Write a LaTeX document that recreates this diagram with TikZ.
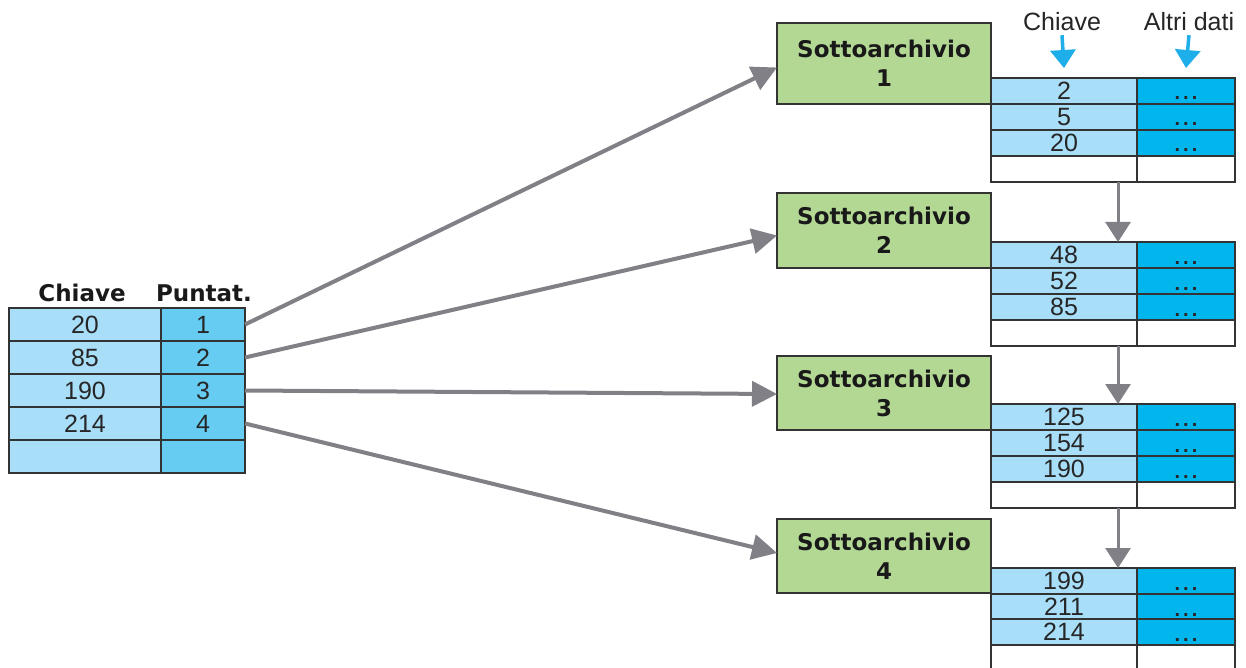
\documentclass[tikz,border=0pt]{standalone}
\usepackage{fontspec}
\setmainfont{Liberation Sans}
\newfontfamily\heavyfont{DejaVu Sans}
\usetikzlibrary{arrows.meta}
\definecolor{keyblue}{HTML}{A9DEF8}
\definecolor{ptrblue}{HTML}{66CCF2}
\definecolor{datablue}{HTML}{00B6EC}
\definecolor{boxgreen}{HTML}{B3D894}
\definecolor{arrgray}{HTML}{808086}
\definecolor{edgegray}{HTML}{333333}
\definecolor{topblue}{HTML}{1EAEEA}
\tikzset{
  cell/.style={draw=edgegray, line width=1.8pt, inner sep=0pt, outer sep=0pt, anchor=north west,
    font=\fontsize{25}{25}\selectfont, text=black!85},
  dots/.style={text height=18pt, text depth=0pt, font=\bfseries\fontsize{20}{20}\selectfont},
  sbox/.style={draw=edgegray, line width=1.8pt, fill=boxgreen, inner sep=0pt, outer sep=0pt,
    anchor=north west, minimum width=214pt, align=center,
    font=\heavyfont\bfseries\fontsize{23}{29}\selectfont, text=black!90},
  heavy/.style={font=\heavyfont\bfseries\fontsize{23}{23}\selectfont, text=black!90},
  plain/.style={font=\fontsize{25}{25}\selectfont, text=black!85},
  bigarrow/.style={draw=arrgray, line width=4pt, -{Triangle[length=25pt,width=25pt]}, fill=arrgray},
  downarrow/.style={draw=arrgray, line width=3pt, -{Triangle[length=20pt,width=25pt]}, fill=arrgray},
  bluearrow/.style={draw=topblue, line width=3.5pt, -{Triangle[length=18pt,width=25pt]}, fill=topblue}
}
\newcommand\dotrow{.\kern3pt.\kern3pt.}
\newcommand\leftrow[4]{%
  \node[cell, fill=keyblue, minimum width=152pt, minimum height=33pt] (lk#1) at (9,#2) {#3};
  \node[cell, fill=ptrblue, minimum width=84pt, minimum height=33pt] (lp#1) at (161,#2) {#4};}
\newcommand\rightrow[7]{% table, row, y, key, keyfill, datafill, data
  \node[cell, fill=#5, minimum width=146pt, minimum height=26pt] (k#1#2) at (991,#3) {#4};
  \node[cell, fill=#6, dots, minimum width=98pt, minimum height=26pt] (d#1#2) at (1137,#3) {#7};}
\begin{document}
\begin{tikzpicture}[x=1pt,y=-1pt]
\useasboundingbox[fill=white] (0,0) rectangle (1246,668);

% left index table
\node[heavy] (hk) at (82,293) {Chiave};
\node[heavy] (hp) at (204,293) {Puntat.};
\leftrow{0}{308}{20}{1}
\leftrow{1}{341}{85}{2}
\leftrow{2}{374}{190}{3}
\leftrow{3}{407}{214}{4}
\leftrow{4}{440}{}{}

% sub-archive boxes
\node[sbox, minimum height=81pt] (s1) at (777,23) {Sottoarchivio\\1};
\node[sbox, minimum height=75pt] (s2) at (777,193) {Sottoarchivio\\2};
\node[sbox, minimum height=74pt] (s3) at (777,356) {Sottoarchivio\\3};
\node[sbox, minimum height=74pt] (s4) at (777,519) {Sottoarchivio\\4};

% sub-archive tables
\rightrow{1}{1}{78}{2}{keyblue}{datablue}{\dotrow}
\rightrow{1}{2}{104}{5}{keyblue}{datablue}{\dotrow}
\rightrow{1}{3}{130}{20}{keyblue}{datablue}{\dotrow}
\rightrow{1}{4}{156}{}{white}{white}{}

\rightrow{2}{1}{242}{48}{keyblue}{datablue}{\dotrow}
\rightrow{2}{2}{268}{52}{keyblue}{datablue}{\dotrow}
\rightrow{2}{3}{294}{85}{keyblue}{datablue}{\dotrow}
\rightrow{2}{4}{320}{}{white}{white}{}

\rightrow{3}{1}{404}{125}{keyblue}{datablue}{\dotrow}
\rightrow{3}{2}{430}{154}{keyblue}{datablue}{\dotrow}
\rightrow{3}{3}{456}{190}{keyblue}{datablue}{\dotrow}
\rightrow{3}{4}{482}{}{white}{white}{}

\rightrow{4}{1}{568}{199}{keyblue}{datablue}{\dotrow}
\rightrow{4}{2}{594}{211}{keyblue}{datablue}{\dotrow}
\rightrow{4}{3}{619}{214}{keyblue}{datablue}{\dotrow}
\rightrow{4}{4}{645}{}{white}{white}{}

% column headers of sub-archive tables
\node[plain] (ck) at (1062,22) {Chiave};
\node[plain] (ad) at (1189,22) {Altri dati};
\draw[bluearrow] ([yshift=-0.5pt]ck.south) -- ([yshift=10pt]k11.north);
\draw[bluearrow] ([yshift=-0.5pt]ad.south) -- ([yshift=10pt]d11.north);

% pointers
\draw[bigarrow] (lp0.east) -- ([yshift=-4pt]s1.west);
\draw[bigarrow] (lp1.east) -- ([yshift=-5pt]s2.west);
\draw[bigarrow] (lp2.east) -- ([yshift=-1pt]s3.west);
\draw[bigarrow] (lp3.east) -- ([yshift=3pt]s4.west);

% chaining between sub-archives
\coordinate (vx) at (1118,0);
\draw[downarrow] (k14.south -| vx) -- (k21.north -| vx);
\draw[downarrow] (k24.south -| vx) -- (k31.north -| vx);
\draw[downarrow] (k34.south -| vx) -- (k41.north -| vx);
\end{tikzpicture}
\end{document}
